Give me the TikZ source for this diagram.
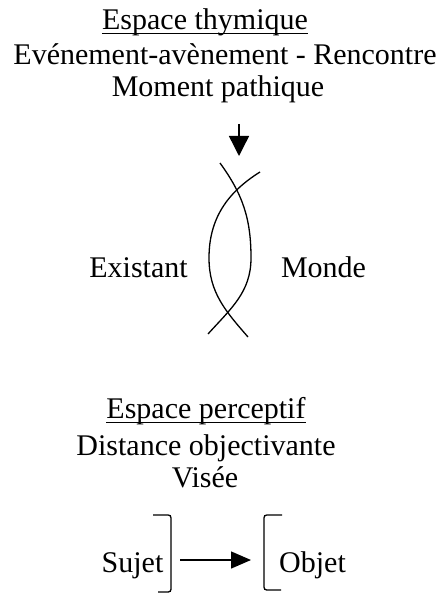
\documentclass[tikz,border=0pt]{standalone}
\usepackage{fontspec}
\setmainfont{Liberation Serif}
\usetikzlibrary{arrows.meta}
\begin{document}
\begin{tikzpicture}[x=1pt,y=-1pt,
  txt/.style={inner sep=0pt,anchor=base,font=\fontsize{30}{36}\selectfont},
  ul/.style={line width=1pt},
  thin/.style={line width=1.3pt},
  bigarrow/.style={line width=1.4pt,-{Triangle[length=20pt,width=20pt]}},
  smallarrow/.style={line width=1.4pt,-{Triangle[length=20pt,width=17pt]}}]
\useasboundingbox (0,0) rectangle (445,593);
% top block
\node[txt] (t1) at (205,30) {Espace thymique};
\draw[ul] ([yshift=-3.5pt]t1.base west) -- ([yshift=-3.5pt]t1.base east);
\node[txt] (t2) at (225,65) {Evénement-avènement - Rencontre};
\node[txt] (t3) at (218,97) {Moment pathique};
\coordinate (a1) at (239,124);
\coordinate (a2) at (239,156);
\draw[bigarrow] (a1) -- (a2);
% intertwined curves
\coordinate (bA) at (220,163);
\coordinate (bR) at (251,258);
\coordinate (bE) at (208,334);
\coordinate (aA) at (260,172);
\coordinate (aL) at (209,258);
\coordinate (aE) at (248,337);
\draw[thin] (bA) to[out=-54,in=90] (bR) to[out=-90,in=48] (bE);
\draw[thin] (aA) to[out=212,in=90] (aL) to[out=-90,in=131] (aE);
\node[txt] (ex) at (138.5,277) {Existant};
\node[txt] (mo) at (323.5,277) {Monde};
% bottom block
\node[txt] (p1) at (206,418) {Espace perceptif};
\draw[ul] ([yshift=-4pt]p1.base west) -- ([yshift=-4pt]p1.base east);
\node[txt] (p2) at (206,455) {Distance objectivante};
\node[txt] (p3) at (205,487) {Visée};
\node[txt] (su) at (132.5,572) {Sujet};
\node[txt] (ob) at (312.5,572) {Objet};
% brackets
\draw[thin] (153,515) -- (165,515) .. controls (171,515) .. (171,521) -- (171,586) .. controls (171,592) .. (165,592) -- (158,592);
\draw[thin] (282,515) -- (270,515) .. controls (264,515) .. (264,521) -- (264,584) .. controls (264,590) .. (270,590) -- (281,590);
\coordinate (s1) at (180,560);
\coordinate (s2) at (251,560);
\draw[smallarrow] (s1) -- (s2);
\end{tikzpicture}
\end{document}
